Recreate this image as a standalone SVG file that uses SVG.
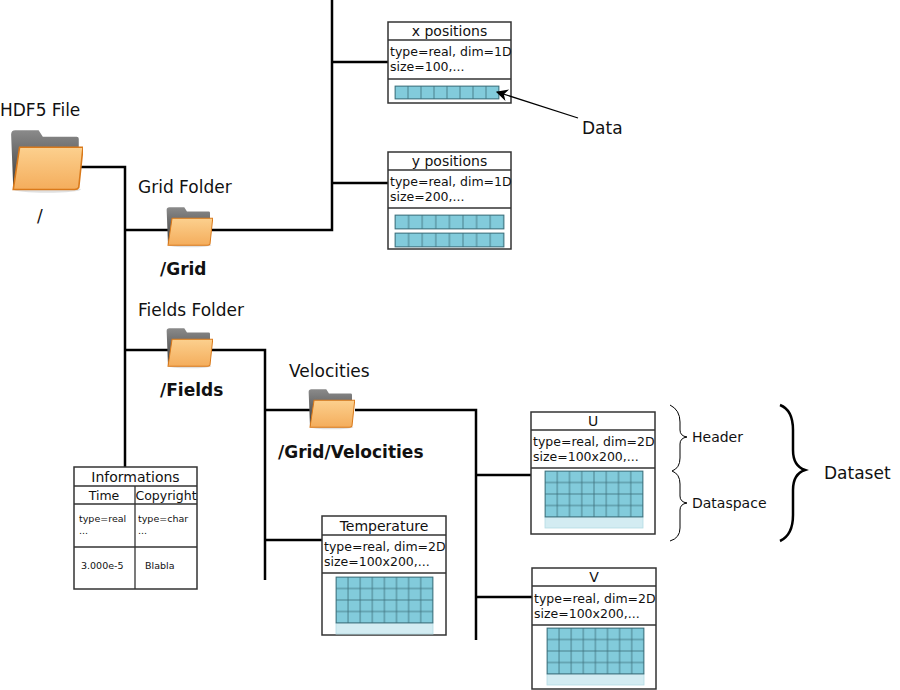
<svg xmlns="http://www.w3.org/2000/svg" width="900" height="690" viewBox="0 0 900 690">
<style>
text{font-family:"DejaVu Sans",sans-serif;fill:#111}
.lbl{font-size:17px}
.b{font-size:17px;font-weight:bold}
.t{font-size:14px}
.s{font-size:12.5px}
.xs{font-size:9.5px}
.box{fill:#fff;stroke:#333;stroke-width:1.5}
.ln{stroke:#333;stroke-width:1.3}
.c{fill:#82cbdb;stroke:#3d6f7b;stroke-width:0.8}
.cl{fill:#d3ecf2;stroke:#b5dbe4;stroke-width:0.8}
.con{fill:none;stroke:#000;stroke-width:2.5}
.br{fill:none;stroke:#000}
.g{stroke:#3d6f7b;stroke-width:0.8}
</style>
<defs>
<linearGradient id="gb" x1="0" y1="0" x2="0" y2="1"><stop offset="0" stop-color="#8a8a8a"/><stop offset="1" stop-color="#3c3c3c"/></linearGradient>
<linearGradient id="go" x1="0" y1="0" x2="0" y2="1"><stop offset="0" stop-color="#fcd08e"/><stop offset="1" stop-color="#f4ad5c"/></linearGradient>
<symbol id="fold" viewBox="0 0 70 62">
<ellipse cx="36" cy="58" rx="32" ry="3" fill="#000" opacity="0.12"/>
<path d="M2 6 Q2 2 6 2 H28 L32 8 H64 Q66 8 66 10 V56 H4 Z" fill="url(#gb)"/>
<path d="M10 18 H70 L66 56 Q65 58 62 58 H4 Z" fill="url(#go)" stroke="#d9791a" stroke-width="1.5"/>
</symbol>
<pattern id="p1" x="395" y="86" width="13" height="13" patternUnits="userSpaceOnUse"><rect width="13" height="13" class="c"/></pattern>
<pattern id="p2" x="395" y="215" width="13.6" height="14" patternUnits="userSpaceOnUse"><rect width="13.6" height="14" class="c"/></pattern>
<pattern id="p3" x="395" y="233" width="13.6" height="14" patternUnits="userSpaceOnUse"><rect width="13.6" height="14" class="c"/></pattern>
<pattern id="pT" x="336" y="577" width="12.1" height="11.5" patternUnits="userSpaceOnUse"><rect width="12.1" height="11.5" class="c"/></pattern>
<pattern id="pU" x="545" y="471" width="12.25" height="11.5" patternUnits="userSpaceOnUse"><rect width="12.25" height="11.5" class="c"/></pattern>
<pattern id="pV" x="547" y="628" width="12.1" height="11.5" patternUnits="userSpaceOnUse"><rect width="12.1" height="11.5" class="c"/></pattern>
<marker id="ah" viewBox="0 0 10 10" refX="9" refY="5" markerWidth="18" markerHeight="12" markerUnits="userSpaceOnUse" orient="auto"><path d="M0 0 L10 5 L0 10 L3 5Z" fill="#000"/></marker>
</defs>

<g id="connectors">
<path class="con" d="M78 167 H125 V468"/>
<path class="con" d="M125 230 H168"/>
<path class="con" d="M212 230 H332 V0"/>
<path class="con" d="M332 62 H388"/>
<path class="con" d="M332 183 H388"/>
<path class="con" d="M125 350 H168"/>
<path class="con" d="M212 350 H265 V580"/>
<path class="con" d="M265 410 H310"/>
<path class="con" d="M355 410 H476 V640"/>
<path class="con" d="M476 475 H531"/>
<path class="con" d="M476 597 H532"/>
<path class="con" d="M265 540 H322"/>
</g>

<g id="root">
<text class="lbl" x="0" y="116">HDF5 File</text>
<use href="#fold" x="9" y="128" width="74" height="66"/>
<text class="lbl" x="37" y="222">/</text>
</g>

<g id="grid">
<text class="lbl" x="138" y="193">Grid Folder</text>
<use href="#fold" x="165" y="206" width="48" height="42"/>
<text class="b" x="160" y="275">/Grid</text>
</g>

<g id="fields">
<text class="lbl" x="138" y="316">Fields Folder</text>
<use href="#fold" x="165" y="327" width="48" height="42"/>
<text class="b" x="160" y="396">/Fields</text>
</g>

<g id="velocities">
<text class="lbl" x="289" y="377">Velocities</text>
<use href="#fold" x="307" y="388" width="48" height="42"/>
<text class="b" x="278" y="458">/Grid/Velocities</text>
</g>

<g id="xpos">
<rect class="box" x="388" y="22" width="123" height="81"/>
<line class="ln" x1="388" y1="40" x2="511" y2="40"/>
<line class="ln" x1="388" y1="79" x2="511" y2="79"/>
<text class="t" x="449.5" y="36" text-anchor="middle">x positions</text>
<text class="s" x="390" y="56">type=real, dim=1D</text>
<text class="s" x="390" y="71">size=100,...</text>
<rect x="395" y="86" width="104" height="13" fill="url(#p1)" class="g"/>
</g>

<g id="ypos">
<rect class="box" x="388" y="152" width="123" height="97"/>
<line class="ln" x1="388" y1="170" x2="511" y2="170"/>
<line class="ln" x1="388" y1="208" x2="511" y2="208"/>
<text class="t" x="449.5" y="166" text-anchor="middle">y positions</text>
<text class="s" x="390" y="186">type=real, dim=1D</text>
<text class="s" x="390" y="201">size=200,...</text>
<rect x="395" y="215" width="109" height="14" fill="url(#p2)" class="g"/>
<rect x="395" y="233" width="109" height="14" fill="url(#p3)" class="g"/>
</g>

<g id="data">
<path fill="none" stroke="#000" stroke-width="1.3" d="M578 118 L497 92" marker-end="url(#ah)"/>
<text class="lbl" x="582" y="134">Data</text>
</g>

<g id="informations">
<rect class="box" x="74" y="467" width="123" height="122"/>
<line class="ln" x1="74" y1="486" x2="197" y2="486"/>
<line class="ln" x1="74" y1="504" x2="197" y2="504"/>
<line class="ln" x1="74" y1="547" x2="197" y2="547"/>
<line class="ln" x1="135" y1="486" x2="135" y2="589"/>
<text class="t" x="135.5" y="482" text-anchor="middle">Informations</text>
<text class="s" x="104" y="500" text-anchor="middle">Time</text>
<text class="s" x="166" y="500" text-anchor="middle">Copyright</text>
<text class="xs" x="79" y="522">type=real</text>
<text class="xs" x="79" y="534">...</text>
<text class="xs" x="138" y="522">type=char</text>
<text class="xs" x="138" y="534">...</text>
<text class="xs" x="81" y="569">3.000e-5</text>
<text class="xs" x="145" y="569">Blabla</text>
</g>

<g id="temperature">
<rect class="box" x="322" y="516" width="124" height="119"/>
<line class="ln" x1="322" y1="535" x2="446" y2="535"/>
<line class="ln" x1="322" y1="573" x2="446" y2="573"/>
<text class="t" x="384" y="531" text-anchor="middle">Temperature</text>
<text class="s" x="324" y="551">type=real, dim=2D</text>
<text class="s" x="324" y="566">size=100x200,...</text>
<rect x="336" y="623" width="97" height="11" class="cl"/>
<rect x="336" y="577" width="97" height="46" fill="url(#pT)" class="g"/>
</g>

<g id="U">
<rect class="box" x="531" y="412" width="124" height="122"/>
<line class="ln" x1="531" y1="430" x2="655" y2="430"/>
<line class="ln" x1="531" y1="468" x2="655" y2="468"/>
<text class="t" x="593" y="426" text-anchor="middle">U</text>
<text class="s" x="533" y="446">type=real, dim=2D</text>
<text class="s" x="533" y="461">size=100x200,...</text>
<rect x="545" y="517" width="98" height="11" class="cl"/>
<rect x="545" y="471" width="98" height="46" fill="url(#pU)" class="g"/>
</g>

<g id="V">
<rect class="box" x="532" y="568" width="124" height="121"/>
<line class="ln" x1="532" y1="586" x2="656" y2="586"/>
<line class="ln" x1="532" y1="625" x2="656" y2="625"/>
<text class="t" x="594" y="582" text-anchor="middle">V</text>
<text class="s" x="534" y="603">type=real, dim=2D</text>
<text class="s" x="534" y="618">size=100x200,...</text>
<rect x="547" y="674" width="97" height="11" class="cl"/>
<rect x="547" y="628" width="97" height="46" fill="url(#pV)" class="g"/>
</g>

<g id="braces">
<path class="br" stroke-width="1" d="M670 405 Q680 410 680 422 V430 Q680 436 687 437 Q680 438 680 444 V458 Q680 468 672 471 Q680 474 680 484 V496 Q680 502 687 503 Q680 504 680 510 V528 Q680 538 670 541"/>
<path class="br" stroke-width="2.5" d="M780 405 Q793 410 793 430 V450 Q793 466 805 470 Q793 474 793 490 V515 Q793 535 780 541"/>
<text class="t" x="692" y="442">Header</text>
<text class="t" x="692" y="508">Dataspace</text>
<text class="lbl" x="824" y="479">Dataset</text>
</g>
</svg>
